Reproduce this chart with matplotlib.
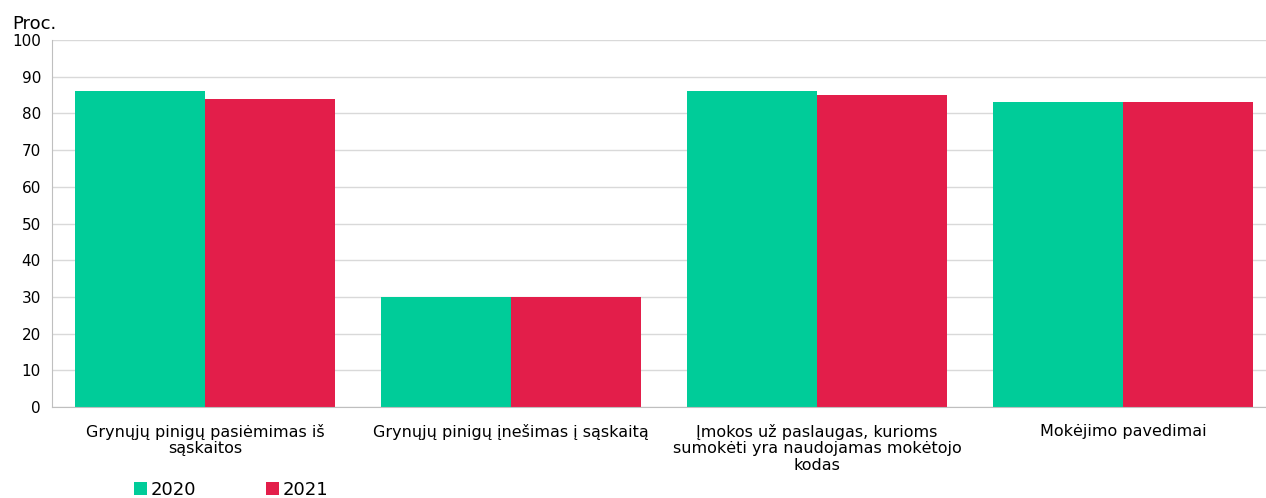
import matplotlib.pyplot as plt
import numpy as np

categories = ['Grynųjų pinigų pasiėmimas iš\nsąskaitos',
              'Grynųjų pinigų įnešimas į sąskaitą',
              'Įmokos už paslaugas, kurioms\nsumokėti yra naudojamas mokėtojo\nkodas',
              'Mokėjimo pavedimai']
vals_2020 = [86, 30, 86, 83]
vals_2021 = [84, 30, 85, 83]
years = ['2020', '2021']

c2020 = '#00cc99'
c2021 = '#e31e4a'

fig = plt.figure(figsize=(12.66, 4.98), dpi=100)
ax = fig.add_axes([52/1266, (498-407)/498, (1266-52)/1266, (407-40)/498])

x = np.arange(len(categories))
w = 0.425
ax.bar(x - w/2, vals_2020, w, color=c2020, label=years[0])
ax.bar(x + w/2, vals_2021, w, color=c2021, label=years[1])

ax.set_ylim(0, 100)
ax.set_xlim(-0.5, 3.5 - 10/306)
ax.set_yticks(range(0, 101, 10))
ax.yaxis.grid(True, color='#d9d9d9', linewidth=1)
ax.set_axisbelow(True)
for s in ['top', 'right']:
    ax.spines[s].set_visible(False)
ax.spines['left'].set_color('#bfbfbf')
ax.spines['bottom'].set_color('#bfbfbf')
ax.tick_params(axis='y', length=0, labelsize=11, pad=8)
ax.tick_params(axis='x', length=0, labelsize=11.5, pad=12)
ax.set_xticks(x)
ax.set_xticklabels(categories, linespacing=1.12)
fig.text(12/1266, 1 - 24/498, 'Proc.', fontsize=13, va='center')

fig.legend(loc='center left', bbox_to_anchor=(118/1266, 1 - 490/498), ncol=2,
           frameon=False, fontsize=13, handlelength=0.7, handleheight=0.7,
           handletextpad=0.2, columnspacing=3.9)

fig.savefig('out.png', dpi=100)
